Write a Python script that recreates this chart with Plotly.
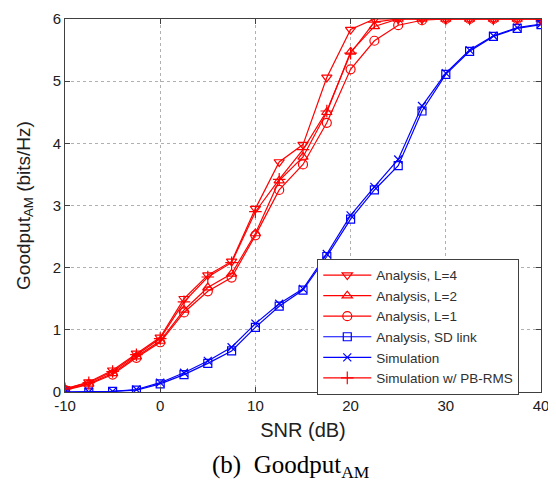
import plotly.graph_objects as go

snr = [-10, -7.5, -5, -2.5, 0, 2.5, 5, 7.5, 10, 12.5, 15, 17.5, 20, 22.5, 25, 27.5, 30, 32.5, 35, 37.5, 40]

analysis_L4 = [0.05, 0.16, 0.35, 0.62, 0.88, 1.50, 1.88, 2.10, 2.95, 3.70, 3.98, 5.06, 5.83, 6.00, 6.00, 6.00, 6.00, 6.00, 6.00, 6.00, 6.00]
analysis_L2 = [0.04, 0.13, 0.30, 0.57, 0.82, 1.32, 1.68, 1.90, 2.55, 3.40, 3.78, 4.50, 5.47, 5.88, 6.00, 6.00, 6.00, 6.00, 6.00, 6.00, 6.00]
analysis_L1 = [0.03, 0.12, 0.28, 0.55, 0.80, 1.28, 1.62, 1.84, 2.52, 3.25, 3.66, 4.33, 5.19, 5.65, 5.90, 5.98, 6.00, 6.00, 6.00, 6.00, 6.00]
analysis_SD = [0.00, 0.00, 0.01, 0.03, 0.13, 0.28, 0.46, 0.66, 1.04, 1.38, 1.64, 2.18, 2.78, 3.25, 3.64, 4.52, 5.11, 5.48, 5.72, 5.85, 5.91]
simulation = [0.00, 0.00, 0.01, 0.04, 0.15, 0.31, 0.50, 0.72, 1.10, 1.42, 1.66, 2.22, 2.84, 3.30, 3.74, 4.60, 5.13, 5.50, 5.73, 5.86, 5.92]
sim_pbrms = [0.05, 0.15, 0.33, 0.60, 0.86, 1.45, 1.85, 2.08, 2.90, 3.42, 3.90, 4.52, 5.45, 5.95, 6.00, 6.00, 6.00, 6.00, 6.00, 6.00, 6.00]

names = ["Analysis, L=4", "Analysis, L=2", "Analysis, L=1", "Analysis, SD link", "Simulation", "Simulation w/ PB-RMS"]

x_ticks = [-10, 0, 10, 20, 30, 40]
x_ticklabels = ["-10", "0", "10", "20", "30", "40"]
y_ticks = [0, 1, 2, 3, 4, 5, 6]
y_ticklabels = ["0", "1", "2", "3", "4", "5", "6"]

RED = "#ff0000"
BLUE = "#0000ff"

series = [
    (analysis_L4, RED, "triangle-down-open", 9),
    (analysis_L2, RED, "triangle-up-open", 9),
    (analysis_L1, RED, "circle-open", 9),
    (analysis_SD, BLUE, "square-open", 8),
    (simulation, BLUE, "x-thin-open", 8),
    (sim_pbrms, RED, "cross-thin-open", 9),
]

fig = go.Figure()
for (vals, col, sym, sz), nm in zip(series, names):
    fig.add_trace(go.Scatter(
        x=snr, y=vals, name=nm, mode="lines+markers",
        line=dict(color=col, width=1.2),
        marker=dict(symbol=sym, size=sz, color=col, line=dict(color=col, width=1.2)),
    ))

axis_common = dict(
    showgrid=True, gridcolor="#b0b0b0", griddash="dot", gridwidth=1,
    showline=True, linecolor="#404040", linewidth=1, mirror="ticks",
    ticks="inside", ticklen=5, tickcolor="#404040",
    zeroline=False, automargin=False,
    tickfont=dict(family="Liberation Sans, Arial", size=15, color="#202020"),
)

fig.update_xaxes(range=[-10, 40], tickvals=x_ticks, ticktext=x_ticklabels,
                 title=dict(text="SNR (dB)", font=dict(family="Liberation Sans, Arial", size=20, color="#202020"), standoff=9),
                 **axis_common)
fig.update_yaxes(range=[0, 6], tickvals=y_ticks, ticktext=y_ticklabels,
                 title=dict(text="Goodput<sub>AM</sub> (bits/Hz)", font=dict(family="Liberation Sans, Arial", size=19, color="#202020"), standoff=17),
                 **axis_common)

fig.update_layout(
    width=548, height=476,
    margin=dict(l=57, r=15, t=11, b=92),
    paper_bgcolor="white", plot_bgcolor="white",
    showlegend=True,
    legend=dict(
        x=0.53, y=0.357, xanchor="left", yanchor="top",
        bgcolor="white", bordercolor="#404040", borderwidth=1,
        font=dict(family="Liberation Sans, Arial", size=13.5, color="#303030"),
        tracegroupgap=0, itemwidth=48,
    ),
    annotations=[dict(
        text="(b)&nbsp;&nbsp;Goodput<sub>AM</sub>", xref="paper", yref="paper",
        x=0.475, y=-0.2, xanchor="center", yanchor="middle", showarrow=False,
        font=dict(family="Liberation Serif, Times New Roman", size=25, color="black"),
    )],
)

fig.write_html("out.html")
